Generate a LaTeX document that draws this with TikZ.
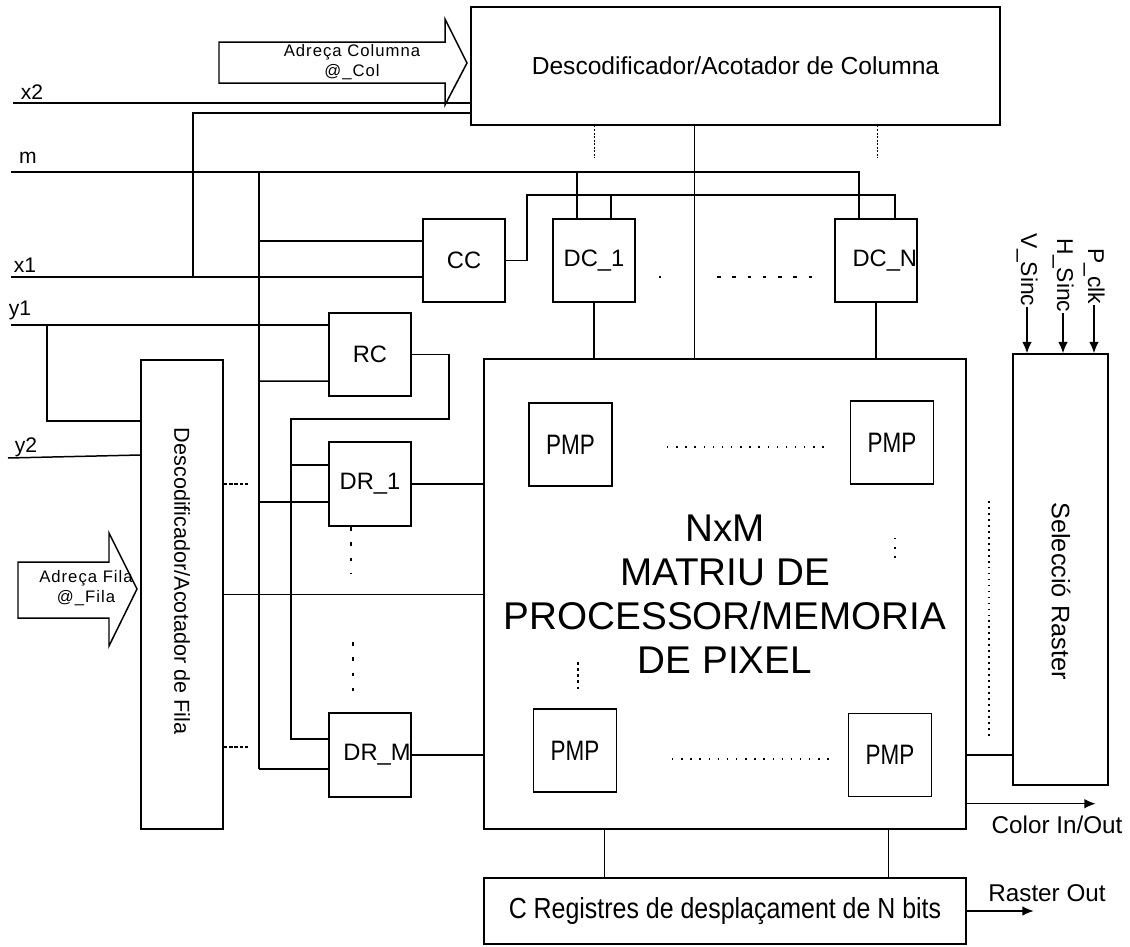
\documentclass[tikz,border=0pt]{standalone}
\usepackage{fontspec}
\setmainfont{Liberation Sans}
\newfontfamily\spacedfont[LetterSpace=6]{Liberation Sans}
\newfontfamily\narrowfont[FakeStretch=0.86]{Liberation Sans}
\newfontfamily\condfont[FakeStretch=0.8]{Liberation Sans}
\usetikzlibrary{calc,positioning,arrows.meta}
\tikzset{>={Latex[length=6.5pt,width=5.5pt]},
  blk/.style = {draw,inner sep=0pt,minimum width=1.64cm,minimum height=1.66cm,font=\fontsize{13.5}{16}\selectfont},
  pmp/.style = {draw,inner sep=0pt,minimum width=1.66cm,minimum height=1.66cm,font=\condfont\fontsize{16}{18}\selectfont},
  lbl/.style = {inner sep=0pt,font=\fontsize{12}{14}\selectfont},
  outlbl/.style = {inner sep=0pt,font=\fontsize{13.8}{16}\selectfont},
  sig/.style = {inner sep=0pt,rotate=-90,anchor=east,font=\fontsize{13}{15}\selectfont},
  addr/.style = {inner sep=0pt,align=center,font=\spacedfont\fontsize{9.5}{11.5}\selectfont},
  bus/.style = {line width=1.2pt},
  finedots/.style = {dash pattern=on 1pt off 1pt},
  shortdash/.style = {dash pattern=on 2pt off 1pt},
  sparsedash/.style = {dash pattern=on 2pt off 6.7pt},
  pmpdots/.style = {line width=1pt,dash pattern=on 0.8pt off 4.4pt},
  rasterdots/.style = {dash pattern=on 1pt off 2.4pt}
}
\begin{document}
\begin{tikzpicture}[x=0.02cm,y=-0.02cm,line width=0.85pt]
  \useasboundingbox (0,0) rectangle (1130,947);
  % blocs
  \node[draw,inner sep=0pt,minimum width=10.58cm,minimum height=2.36cm,font=\fontsize{14}{16}\selectfont] (coldec) at (735.5,66) {Descodificador/Acotador de Columna};
  \node[draw,inner sep=0pt,minimum width=1.64cm,minimum height=9.38cm] (rowdec) at (182,594.5) {};
  \node[rotate=-90,inner sep=0pt,font=\fontsize{12.3}{14}\selectfont] (rowtxt) at (182,581) {Descodificador/Acotador de Fila};
  \node[blk] (cc) at (464,260.5) {CC};
  \node[blk] (dc1) at (594,260.5) {DC\_1};
  \node[blk] (dcn) at (876,260.5) {\hspace*{10pt}DC\_N};
  \node[blk] (rc) at (370,354.5) {RC};
  \node[blk,minimum height=1.68cm] (dr1) at (370,484) {DR\_1};
  \node[blk,minimum height=1.68cm] (drm) at (370,755) {\hspace*{8pt}DR\_M};
  \node[draw,minimum width=9.64cm,minimum height=9.4cm,align=center,font=\fontsize{22}{25}\selectfont] (mat) at (725,594) {NxM\\MATRIU DE\\PROCESSOR/MEMORIA\\DE PIXEL};
  \node[pmp] (pmpa) at (570.5,444.5) {PMP};
  \node[pmp] (pmpb) at (892,442.5) {PMP};
  \node[pmp] (pmpc) at (575,750.5) {PMP};
  \node[pmp] (pmpd) at (890,755) {PMP};
  \node[draw,minimum width=1.9cm,minimum height=8.62cm] (selr) at (1060.5,569.5) {};
  \node[rotate=-90,inner sep=0pt,font=\fontsize{14.4}{16}\selectfont] (seltxt) at (1061,591) {Selecció Raster};
  \node[draw,minimum width=9.64cm,minimum height=1.32cm,font=\narrowfont\fontsize{16.5}{18}\selectfont] (reg) at (725,911) {C Registres de desplaçament de N bits};
  % fletxes d'adreça
  \draw (219,42) -- (445,42) -- (445,19) -- (467,63) -- (445,105) -- (445,83) -- (219,83) -- cycle;
  \node[addr] (colad) at (352,62) {Adreça Columna\\@\_Col};
  \draw (18,562) -- (109,562) -- (109,533) -- (137,589) -- (109,646) -- (109,618) -- (18,618) -- cycle;
  \node[addr] (filad) at (86,588) {Adreça Fila\\@\_Fila};
  % entrades
  \node[lbl] (x2lbl) at (32,92) {x2};
  \node[lbl] (mlbl) at (28,158) {m};
  \node[lbl] (x1lbl) at (25,265) {x1};
  \node[lbl] (y1lbl) at (20,310) {y1};
  \node[lbl] (y2lbl) at (26,447) {y2};
  \coordinate (x2in) at (13,103);
  \coordinate (min) at (11,172);
  \coordinate (x1in) at (11,277);
  \coordinate (y1in) at (11,325);
  \coordinate (y2in) at (8,458);
  \coordinate (bustop) at (222,172);
  \draw (x2in) -- (x2in -| coldec.west);
  \draw (x1in) -- (x1in -| cc.west);
  \draw (193,277) |- ($(coldec.west)+(0,47)$);
  \draw (min) -| ($(dcn.north west)+(25,0)$);
  \draw (577,172) -- (577,172 |- dc1.north);
  \draw[bus] (bustop) -| (259,769);
  \draw (259,769) -- ($(drm.west)+(0,14)$);
  \draw (259,241) -- ($(cc.west)+(0,-19.5)$);
  \draw (259,381) -- ($(rc.west)+(0,26.5)$);
  \draw (259,502) -- ($(dr1.west)+(0,18)$);
  \draw (y1in) -- (y1in -| rc.west);
  \draw (47,325) |- ($(rowdec.west)+(0,-173.5)$);
  \draw (y2in) -- ($(rowdec.west)+(0,-139.5)$);
  \draw (rc.east) -| (449,419) -| (291,739) -- ($(drm.west)+(0,-16)$);
  \draw (291,465) -- ($(dr1.west)+(0,-19)$);
  \draw (cc.east) -| (527,195) -| (895,195 |- dcn.north);
  \draw (611,195) -- (611,195 |- dc1.north);
  % columnes
  \path (coldec.south west) ++(224,0) coordinate (colout);
  \draw (colout) -- (colout |- mat.north);
  \draw[finedots] ($(coldec.south west)+(124,0)$) -- ++(0,32);
  \draw[finedots] ($(coldec.south west)+(407,0)$) -- ++(0,32);
  \draw (dc1.south) -- (dc1.south |- mat.north);
  \draw (dcn.south) -- (dcn.south |- mat.north);
  \draw (659,277) -- (661,277);
  \draw[sparsedash] (717,277) -- (812,277);
  % files
  \draw (dr1.east) -- (dr1.east -| mat.west);
  \draw (drm.east) -- (drm.east -| mat.west);
  \draw (rowdec.east) -- (rowdec.east -| mat.west);
  \draw[shortdash] (rowdec.east |- dr1.east) -- ++(26,0);
  \draw[shortdash] ($(rowdec.east |- drm.west)+(0,-8)$) -- ++(24,0);
  \draw[sparsedash] (351,527) -- (351,574);
  \draw[sparsedash] (353,642) -- (353,692);
  % matriu
  \draw[pmpdots] (667,447) -- (825,447);
  \draw[pmpdots] (672,759) -- (829,759);
  \draw[pmpdots] (895,538) -- (895,562);
  \draw[dash pattern=on 1.5pt off 2pt] (578,662) -- (578,690);
  % raster
  \draw (mat.east |- drm.west) -- (selr.west |- drm.west);
  \draw[rasterdots] (989,501) -- (989,737);
  \node[sig] (vs) at (1027,307) {V\_Sinc};
  \node[sig] (hs) at (1063,313) {H\_Sinc};
  \node[sig] (pc) at (1094,305) {P\_clk};
  \draw[->] (vs.east) -- (vs.east |- selr.north);
  \draw[->] (hs.east) -- (hs.east |- selr.north);
  \draw[->] (pc.east) -- (pc.east |- selr.north);
  \draw[->] ($(mat.south east)+(0,-26)$) -- ++(129,0);
  \node[outlbl] (colorlbl) at (1057,825) {Color In/Out};
  \draw ($(mat.south west)+(121,0)$) -- ++(0,49);
  \draw ($(mat.south west)+(405,0)$) -- ++(0,49);
  \draw[->] (reg.east) -- ++(67,0);
  \node[outlbl] (rasterlbl) at (1047,893) {Raster Out};
\end{tikzpicture}
\end{document}
